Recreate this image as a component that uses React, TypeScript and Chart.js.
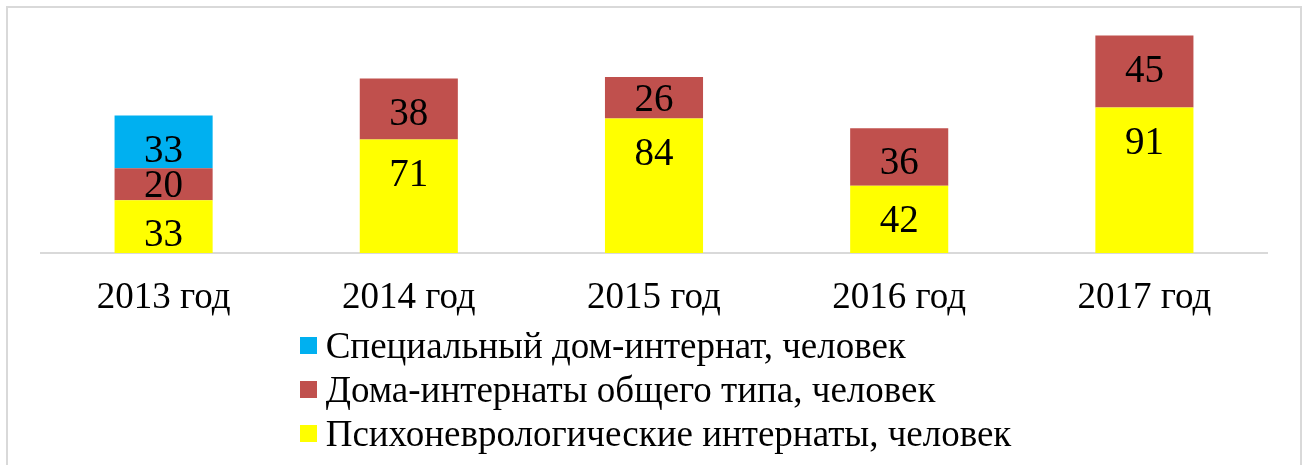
import React, { useEffect, useRef } from "react";
import { Chart, registerables } from "chart.js";

Chart.register(...registerables);

const categories = ["2013 год", "2014 год", "2015 год", "2016 год", "2017 год"];
const seriesNames = [
  "Специальный дом-интернат, человек",
  "Дома-интернаты общего типа, человек",
  "Психоневрологические интернаты, человек",
];
const specialValues: (number | null)[] = [33, null, null, null, null];
const generalValues: (number | null)[] = [20, 38, 26, 36, 45];
const psychoValues: (number | null)[] = [33, 71, 84, 42, 91];
const colors = ["#00B0F0", "#C0504D", "#FFFF00"];

const FONT = "'Liberation Serif', 'Times New Roman', serif";

const labelPlugin = {
  id: "segLabels",
  afterDatasetsDraw(chart: any) {
    const ctx = chart.ctx;
    ctx.save();
    ctx.font = `39px ${FONT}`;
    ctx.fillStyle = "#000";
    ctx.textAlign = "center";
    ctx.textBaseline = "middle";
    chart.data.datasets.forEach((ds: any, i: number) => {
      const meta = chart.getDatasetMeta(i);
      meta.data.forEach((bar: any, j: number) => {
        const v = ds.data[j];
        if (v == null) return;
        const top = Math.min(bar.y, bar.base);
        const h = Math.abs(bar.base - bar.y);
        const y = h >= 50 ? top + 36 : top + h / 2 + 3;
        ctx.fillText(String(v), bar.x, y);
      });
    });
    ctx.restore();
  },
};

export default function App() {
  const ref = useRef<HTMLCanvasElement>(null);
  useEffect(() => {
    document.body.style.margin = "0";
    const chart = new Chart(ref.current!, {
      type: "bar",
      data: {
        labels: categories,
        datasets: [
          { label: seriesNames[2], data: psychoValues, backgroundColor: colors[2] },
          { label: seriesNames[1], data: generalValues, backgroundColor: colors[1] },
          { label: seriesNames[0], data: specialValues, backgroundColor: colors[0] },
        ],
      },
      options: {
        animation: false,
        responsive: false,
        layout: { padding: { left: 41, right: 38, top: 29, bottom: 0 } },
        plugins: { legend: { display: false }, tooltip: { enabled: false } },
        datasets: { bar: { categoryPercentage: 1, barPercentage: 0.4 } },
        scales: {
          x: {
            stacked: true,
            grid: { display: false, drawTicks: false },
            border: { display: true, color: "#d9d9d9", width: 2 },
            ticks: { color: "#000", font: { family: FONT, size: 37 }, padding: 23 },
            afterFit: (s: any) => { s.height = 465 - 253; },
          },
          y: { stacked: true, display: false, min: 0, max: 140 },
        },
      },
      plugins: [labelPlugin],
    });
    return () => chart.destroy();
  }, []);

  const legendOrder = [0, 1, 2];
  return (
    <div style={{ position: "absolute", left: 0, top: 0, width: 1305, height: 465, background: "#fff", overflow: "hidden" }}>
      <div style={{ position: "absolute", left: 6, top: 6, width: 1296, height: 480, border: "2px solid #d9d9d9", boxSizing: "border-box" }} />
      <canvas ref={ref} width={1305} height={465} style={{ position: "absolute", left: 0, top: 0 }} />
      <div style={{ position: "absolute", left: 0, right: 0, top: 323, display: "flex", justifyContent: "center" }}>
        <div style={{ marginLeft: 6 }}>
          {legendOrder.map((i) => (
            <div key={i} style={{ display: "flex", alignItems: "center", height: 44, fontFamily: FONT, fontSize: 37, color: "#000", whiteSpace: "nowrap" }}>
              <span style={{ display: "inline-block", width: 17, height: 17, background: colors[i], marginRight: 9 }} />
              <span>{seriesNames[i]}</span>
            </div>
          ))}
        </div>
      </div>
    </div>
  );
}
